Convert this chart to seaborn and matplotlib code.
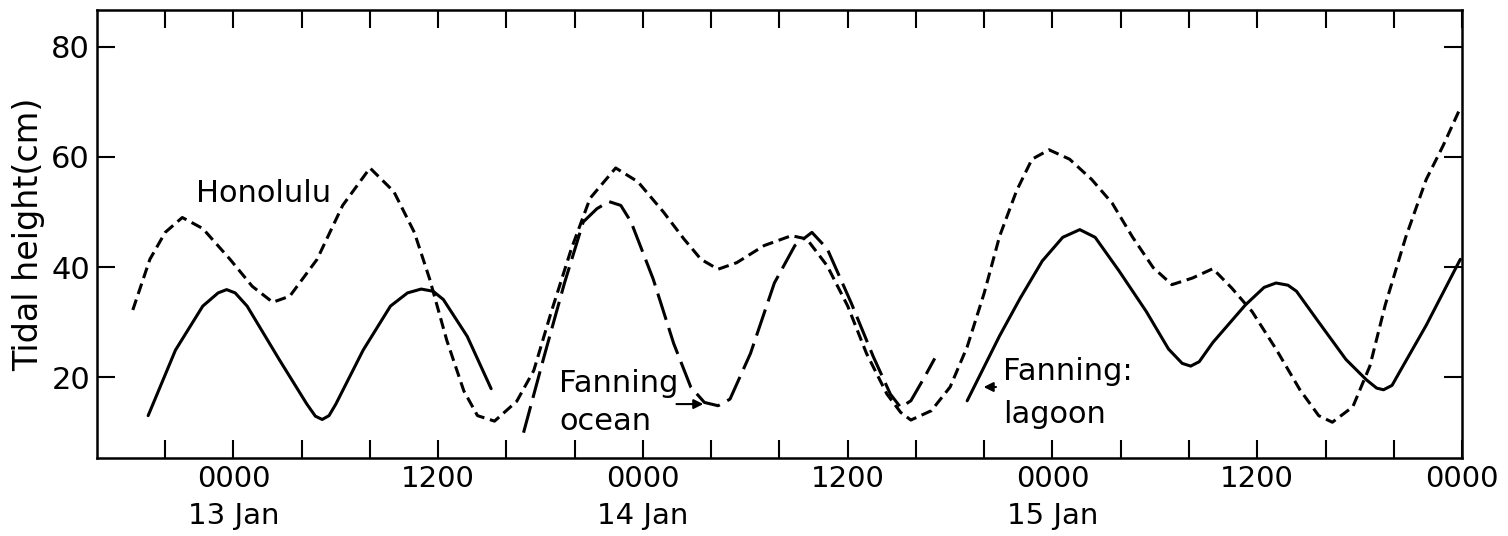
import numpy as np
import pandas as pd
import matplotlib
matplotlib.use("Agg")
import matplotlib.pyplot as plt
import seaborn as sns

# ---- data (hours after 0000 13 Jan, tidal height in cm) ----
honolulu_h = [-5.9, -4.9, -4.0, -3.0, -1.8, -0.2, 1.1, 2.3, 3.3, 4.9, 6.4, 8.0, 9.4, 10.6, 11.5, 12.5,
              13.5, 14.3, 15.3, 16.6, 17.6, 18.6, 19.8, 20.9, 22.4, 23.7, 25.2, 26.4, 27.4, 28.4, 29.5,
              31.1, 32.7, 33.6, 34.8, 36.0, 37.1, 38.3, 39.1, 39.7, 40.9, 42.0, 43.0, 44.0, 44.9, 45.9,
              46.8, 47.8, 49.0, 50.3, 51.5, 52.7, 53.9, 55.0, 56.2, 57.4, 58.5, 59.7, 61.1, 62.5, 63.6,
              64.4, 65.6, 66.6, 67.5, 68.7, 69.9, 70.9, 71.9]
honolulu_cm = [32.2, 41.4, 46.3, 49.0, 47.0, 41.4, 36.5, 33.6, 34.7, 41.4, 51.2, 58.0, 53.7, 46.3, 37.8, 26.7,
               17.5, 13.0, 12.0, 15.6, 21.2, 31.6, 43.3, 52.5, 58.0, 55.5, 50.0, 45.1, 41.4, 39.6, 40.8,
               43.9, 45.7, 45.1, 40.2, 32.9, 24.3, 16.9, 13.6, 12.2, 13.9, 18.2, 25.5, 35.3, 45.6, 53.9,
               59.6, 61.3, 59.6, 55.9, 51.6, 45.4, 39.9, 36.8, 38.0, 39.7, 36.2, 31.9, 25.1, 17.7, 13.0,
               11.8, 14.6, 22.0, 33.1, 45.4, 55.9, 62.1, 68.9]

ocean_h = [17.0, 18.2, 19.4, 20.5, 21.3, 22.0, 22.7, 23.3, 24.6, 25.8, 26.8, 27.6, 28.4, 29.1, 30.3,
           31.7, 32.9, 33.9, 34.8, 36.2, 37.5, 38.5, 39.1, 39.7, 40.5, 41.1]
ocean_cm = [9.9, 23.7, 37.1, 48.2, 50.6, 51.9, 51.2, 48.2, 37.8, 26.1, 18.2, 15.4, 14.8, 16.0, 24.3,
            37.1, 43.9, 46.3, 43.3, 33.5, 23.7, 16.9, 14.5, 15.7, 20.0, 23.4]

lagoon1_h = [-5.0, -3.4, -1.8, -0.9, -0.4, 0.1, 0.8, 2.7, 4.3, 4.8, 5.2, 5.6, 6.0, 7.6, 9.2, 10.2,
             11.0, 11.7, 12.3, 13.7, 15.1]
lagoon1_cm = [13.0, 24.9, 32.9, 35.3, 35.9, 35.3, 32.9, 23.1, 15.1, 12.9, 12.3, 13.0, 15.1, 24.9, 32.9, 35.3,
              36.0, 35.6, 34.1, 27.4, 17.9]
lagoon2_h = [43.0, 44.9, 46.1, 47.4, 48.6, 49.6, 50.5, 51.9, 53.5, 54.8, 55.6, 56.1, 56.6, 57.4, 59.3,
             60.4, 61.1, 61.8, 62.3, 63.6, 65.2, 66.4, 67.0, 67.4, 67.9, 68.3, 69.9, 71.9]
lagoon2_cm = [15.7, 27.5, 34.3, 41.1, 45.4, 46.8, 45.4, 39.3, 31.9, 25.1, 22.5, 22.0, 22.8, 26.3, 33.1,
              36.3, 37.1, 36.7, 35.6, 30.0, 23.2, 19.5, 18.0, 17.7, 18.5, 20.7, 29.4, 41.4]

tick_hours = list(range(-4, 73, 4))
label_hours = [0, 12, 24, 36, 48, 60, 72]
label_texts = ["0000\n13 Jan", "1200", "0000\n14 Jan", "1200", "0000\n15 Jan", "1200", "0000"]
y_ticks = [20, 40, 60, 80]

# ---- plotting ----
sns.set_theme(style="white")
plt.rcParams["font.family"] = ["DejaVu Sans"]

fig = plt.figure(figsize=(15.08, 5.36), dpi=100)
ax = fig.add_axes([0.0643, 0.1455, 0.9052, 0.8358])

lw = 2.2
def draw(h, cm, dashes=None):
    df = pd.DataFrame({"h": h, "cm": cm})
    n0 = len(ax.lines)
    sns.lineplot(data=df, x="h", y="cm", ax=ax, color="black", linewidth=lw,
                 estimator=None, sort=False)
    line = ax.lines[n0]
    if dashes is not None:
        line.set_dashes(dashes)
    line.set_solid_capstyle("round")
    line.set_solid_joinstyle("round")
    line.set_dash_joinstyle("round")
    line.set_dash_capstyle("butt")
    return line

draw(honolulu_h, honolulu_cm, dashes=(3.6, 1.9))
draw(ocean_h, ocean_cm, dashes=(9.0, 2.8))
draw(lagoon1_h, lagoon1_cm)
draw(lagoon2_h, lagoon2_cm)

ax.set_xlim(-8, 72)
ax.set_ylim(5.3, 86.7)

ax.set_xticks(tick_hours)
ax.set_xticklabels([label_texts[label_hours.index(t)] if t in label_hours else "" for t in tick_hours],
                   fontsize=21, linespacing=1.4)
ax.set_yticks(y_ticks)
ax.set_yticklabels([str(v) for v in y_ticks], fontsize=22)
ax.tick_params(axis="x", which="major", direction="in", length=13, width=1.5, top=True, bottom=True,
               pad=5, colors="black")
ax.tick_params(axis="y", which="major", direction="in", length=13, width=1.5, left=True, right=True,
               pad=5, colors="black")
for s in ax.spines.values():
    s.set_visible(True)
    s.set_color("black")
    s.set_linewidth(1.8)

ax.set_xlabel("")
ax.set_ylabel("Tidal height(cm)", fontsize=24, labelpad=4, color="black")
ax.grid(False)

txt = dict(fontsize=22, color="black")
ax.text(-2.2, 53.4, "Honolulu", ha="left", va="center", **txt)
ax.text(19.1, 17.3, "Fanning", ha="left", va="baseline", **txt)
ax.text(19.1, 10.3, "ocean", ha="left", va="baseline", **txt)
ax.text(45.1, 19.5, "Fanning:", ha="left", va="baseline", **txt)
ax.text(45.1, 11.7, "lagoon", ha="left", va="baseline", **txt)

ax.annotate("", xy=(27.7, 15.1), xytext=(25.8, 15.1),
            arrowprops=dict(arrowstyle="-|>", color="black", lw=1.5, mutation_scale=14))
ax.annotate("", xy=(43.8, 18.2), xytext=(44.85, 18.2),
            arrowprops=dict(arrowstyle="-|>", color="black", lw=1.5, mutation_scale=14))

fig.savefig("out.png", dpi=100, facecolor="white")
